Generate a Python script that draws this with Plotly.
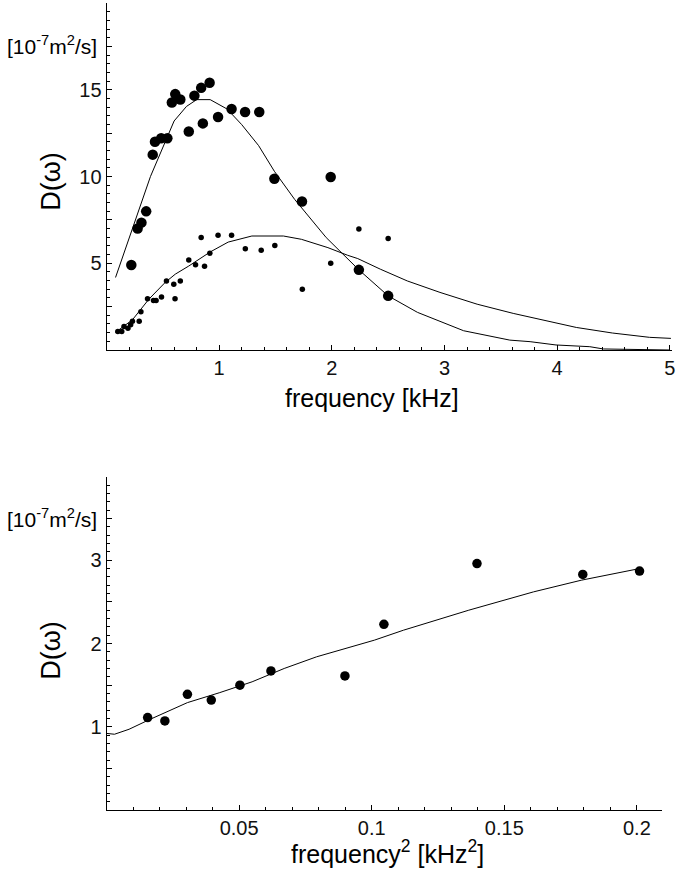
import plotly.graph_objects as go

# ---- top panel data (frequency [kHz] vs D) ----
big_f = [0.22, 0.276, 0.31, 0.352, 0.41, 0.43, 0.485, 0.54, 0.58, 0.61, 0.655, 0.73, 0.78,
         0.84, 0.855, 0.915, 0.99, 1.11, 1.23, 1.356, 1.49, 1.735, 1.99, 2.24, 2.50]
big_D = [4.9, 7.0, 7.34, 7.99, 11.26, 12.0, 12.2, 12.2, 14.27, 14.75, 14.44, 12.59, 14.66,
         15.11, 13.06, 15.4, 13.43, 13.89, 13.72, 13.72, 9.87, 8.56, 9.97, 4.62, 3.12]

small_f = [0.10, 0.135, 0.155, 0.19, 0.214, 0.23, 0.29, 0.305, 0.364, 0.417, 0.44, 0.488,
           0.532, 0.597, 0.608, 0.655, 0.73, 0.79, 0.84, 0.87, 0.917, 0.99, 1.11, 1.232,
           1.373, 1.494, 1.738, 1.99, 2.24, 2.50]
small_D = [1.07, 1.07, 1.36, 1.26, 1.46, 1.65, 1.65, 2.2, 2.95, 2.86, 2.86, 3.05,
           3.98, 3.79, 2.95, 3.98, 5.19, 4.92, 6.49, 4.83, 5.57, 6.61, 6.61, 5.84,
           5.75, 6.03, 3.5, 5.0, 6.97, 6.42]

fit1_f = [0.08, 0.39, 0.6, 0.71, 0.80, 0.92, 1.07, 1.2, 1.35, 1.49, 1.67, 1.88, 1.95,
          2.24, 2.5, 2.76, 3.17, 3.58, 3.76, 3.99, 4.29, 4.41, 5.0]
fit1_D = [4.18, 10.0, 13.2, 14.04, 14.43, 14.43, 13.89, 12.99, 11.78, 10.3, 8.68, 7.05, 6.48,
          4.62, 3.12, 2.17, 1.11, 0.57, 0.48, 0.29, 0.19, 0.06, 0.0]

fit2_f = [0.08, 0.23, 0.376, 0.52, 0.61, 0.73, 0.92, 1.08, 1.29, 1.57, 1.73, 1.88, 1.965,
          2.14, 2.23, 2.43, 2.67, 2.96, 3.29, 3.61, 3.88, 4.17, 4.49, 4.82, 5.01]
fit2_D = [1.02, 1.74, 2.93, 3.89, 4.37, 4.84, 5.65, 6.22, 6.57, 6.57, 6.38, 6.09, 5.9,
          5.46, 5.27, 4.66, 3.98, 3.32, 2.64, 2.11, 1.74, 1.30, 0.98, 0.73, 0.67]

# ---- bottom panel data (frequency^2 [kHz^2] vs D) ----
sq_f2 = [0.0155, 0.022, 0.0305, 0.0395, 0.0503, 0.062, 0.0899, 0.1046, 0.1397, 0.1796, 0.201]
sq_D = [1.11, 1.07, 1.39, 1.32, 1.50, 1.67, 1.61, 2.23, 2.96, 2.83, 2.87]

fit3_f2 = [0.0, 0.003, 0.0085, 0.0158, 0.0305, 0.0427, 0.0549, 0.067, 0.0792, 0.0915,
           0.101, 0.112, 0.1366, 0.161, 0.179, 0.201]
fit3_D = [0.92, 0.91, 0.97, 1.08, 1.29, 1.41, 1.54, 1.70, 1.84, 1.95,
          2.04, 2.16, 2.40, 2.62, 2.76, 2.90]

top_xticks = [1, 2, 3, 4, 5]
top_yticks = [2.5, 5, 7.5, 10, 12.5, 15, 17.5, 20]
top_ylabels = ["", "5", "", "10", "", "15", "", ""]
bot_xticks = [0.05, 0.1, 0.15, 0.2]
bot_xlabels = ["0.05", "0.1", "0.15", "0.2"]
bot_yticks = [0.5, 1, 1.5, 2, 2.5, 3, 3.5, 4]
bot_ylabels = ["", "1", "", "2", "", "3", "", ""]

FONT = "Liberation Sans"
W, H = 684, 874

fig = go.Figure()
line = dict(color="black", width=1)
fig.add_trace(go.Scatter(x=fit1_f, y=fit1_D, mode="lines", line=line, xaxis="x", yaxis="y"))
fig.add_trace(go.Scatter(x=fit2_f, y=fit2_D, mode="lines", line=line, xaxis="x", yaxis="y"))
fig.add_trace(go.Scatter(x=big_f, y=big_D, mode="markers", marker=dict(color="black", size=10.5),
                         xaxis="x", yaxis="y"))
fig.add_trace(go.Scatter(x=small_f, y=small_D, mode="markers", marker=dict(color="black", size=5.5),
                         xaxis="x", yaxis="y"))
fig.add_trace(go.Scatter(x=fit3_f2, y=fit3_D, mode="lines", line=line, xaxis="x2", yaxis="y2"))
fig.add_trace(go.Scatter(x=sq_f2, y=sq_D, mode="markers", marker=dict(color="black", size=9.5),
                         xaxis="x2", yaxis="y2"))

def px_x(p):
    return p / W

def px_y(p):
    return 1 - p / H

axcommon = dict(showgrid=False, zeroline=False, showline=True, linecolor="black", linewidth=1,
                ticks="inside", ticklen=5, tickcolor="black", tickwidth=1,
                tickfont=dict(family=FONT, size=20, color="#111111"))

fig.update_layout(
    width=W, height=H, margin=dict(l=0, r=0, t=0, b=0),
    paper_bgcolor="white", plot_bgcolor="white", showlegend=False,
    xaxis=dict(domain=[px_x(107), px_x(675)], range=[0, 5.02], anchor="y",
               tickmode="array", tickvals=top_xticks,
               minor=dict(dtick=0.2, tick0=0, ticks="inside", ticklen=3, tickcolor="black"),
               **axcommon),
    yaxis=dict(domain=[px_y(350), px_y(3)], range=[0, 20], anchor="x",
               tickmode="array", tickvals=top_yticks, ticktext=top_ylabels,
               minor=dict(dtick=0.5, tick0=0, ticks="inside", ticklen=3, tickcolor="black"),
               **axcommon),
    xaxis2=dict(domain=[px_x(107), px_x(665)], range=[0, 0.2095], anchor="y2",
                tickmode="array", tickvals=bot_xticks, ticktext=bot_xlabels,
                minor=dict(dtick=0.01, tick0=0, ticks="inside", ticklen=3, tickcolor="black"),
                **axcommon),
    yaxis2=dict(domain=[px_y(810), px_y(477)], range=[0, 4], anchor="x2",
                tickmode="array", tickvals=bot_yticks, ticktext=bot_ylabels,
                minor=dict(dtick=0.1, tick0=0, ticks="inside", ticklen=3, tickcolor="black"),
                **axcommon),
)

def ann(text, x, y, size, angle=0):
    fig.add_annotation(text=text, x=px_x(x), y=px_y(y), xref="paper", yref="paper",
                       showarrow=False, textangle=angle,
                       font=dict(family=FONT, size=size, color="black"),
                       xanchor="center", yanchor="middle")

ann("[10<sup>-7</sup>m<sup>2</sup>/s]", 52, 45, 21)
ann("D(ω)", 51, 181, 27, -90)
ann("frequency [kHz]", 374, 398, 25)
ann("[10<sup>-7</sup>m<sup>2</sup>/s]", 52, 518, 21)
ann("D(ω)", 51, 650, 27, -90)
ann("frequency<sup>2</sup> [kHz<sup>2</sup>]", 389, 852, 25)

fig.write_html("out.html", config={"displayModeBar": False},
               post_script="document.body.style.margin='0';")
